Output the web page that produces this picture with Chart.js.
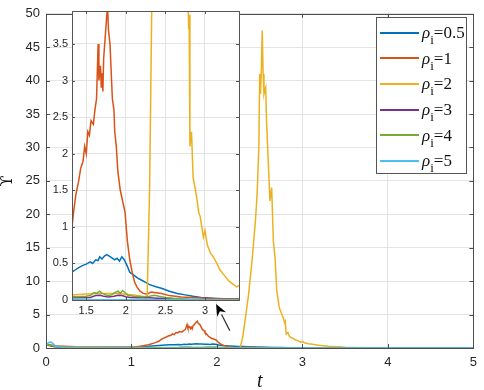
<!DOCTYPE html>
<html>
<head>
<meta charset="utf-8">
<script src="https://cdn.jsdelivr.net/npm/chart.js@4/dist/chart.umd.min.js"></script>
<style>
  body { margin:0; background:#fff; overflow:hidden; }
  #wrap { position:relative; width:484px; height:390px; }
  #main { position:absolute; left:0; top:0; }
  #inset { position:absolute; left:40px; top:0; }
  #legend { position:absolute; left:376px; top:17px; width:91px; height:157px; border:1px solid #555; background:#fff; box-sizing:border-box; padding-top:2px; }
  .row { height:25.6px; display:flex; align-items:center; }
  .swatch { width:39px; height:2px; margin-left:3px; margin-right:3px; }
  .lab { font-family:"Liberation Serif","Times New Roman",serif; font-size:17px; color:#111; line-height:1; }
  .lab i { font-style:italic; }
  .lab sub { font-size:13px; vertical-align:-6px; line-height:0; }
</style>
</head>
<body>
<div id="wrap">
  <canvas id="main" width="484" height="390"></canvas>
  <canvas id="inset" width="205" height="320"></canvas>
  <div id="legend"></div>
</div>
<script>
// rho_i values and MATLAB default line colours
const rhoLabels = ["0.5", "1", "2", "3", "4", "5"];
const colors = ["#0072BD", "#D95319", "#EDB120", "#7E2F8E", "#77AC30", "#4DBEEE"];

// rho = 0.5
const t1 = [0,0.03,0.06,0.1,0.2,0.35,0.6,0.9,1.05,1.2,1.32,1.36,1.4,1.45,1.5,1.55,1.58,1.62,1.65,1.67,1.7,1.73,1.76,1.79,1.82,1.86,1.89,1.92,1.95,1.98,2.02,2.05,2.1,2.15,2.2,2.25,2.3,2.38,2.45,2.55,2.65,2.75,2.85,2.95,3.1,3.3,3.6,4,4.5,5];
const y1 = [0.4,0.5,0.45,0.3,0.2,0.12,0.1,0.1,0.14,0.25,0.38,0.41,0.44,0.47,0.49,0.52,0.5,0.55,0.54,0.59,0.56,0.6,0.62,0.6,0.58,0.55,0.57,0.53,0.59,0.55,0.46,0.38,0.34,0.3,0.27,0.24,0.21,0.18,0.16,0.12,0.09,0.07,0.05,0.035,0.025,0.015,0.01,0.005,0.002,0];
// rho = 1
const t2 = [0,0.03,0.06,0.1,0.2,0.35,0.6,0.9,1.0,1.1,1.2,1.28,1.32,1.34,1.37,1.4,1.43,1.46,1.48,1.5,1.52,1.54,1.56,1.59,1.61,1.63,1.65,1.66,1.68,1.69,1.7,1.71,1.72,1.74,1.76,1.77,1.78,1.8,1.82,1.83,1.85,1.86,1.88,1.9,1.93,1.96,1.99,2.02,2.05,2.08,2.11,2.14,2.18,2.22,2.27,2.32,2.38,2.45,2.55,2.7,2.9,3.1,3.4,3.8,4.5,5];
const y2 = [0.5,0.45,0.35,0.3,0.25,0.2,0.16,0.12,0.12,0.25,0.5,0.8,1.0,1.2,1.45,1.6,1.8,1.9,2.1,2.0,2.3,2.25,2.45,2.4,2.6,2.75,3.5,3.0,3.2,2.9,3.1,2.85,3.3,3.6,3.9,4.0,3.7,3.5,3.0,2.75,2.6,2.3,2.1,1.75,1.5,1.35,1.2,0.8,0.55,0.38,0.25,0.18,0.12,0.09,0.08,0.11,0.1,0.09,0.06,0.04,0.03,0.02,0.015,0.01,0.005,0];
// rho = 2
const t3 = [0,0.03,0.06,0.1,0.2,0.35,0.6,0.9,1.2,1.32,1.45,1.6,1.75,1.9,2.0,2.1,2.2,2.25,2.27,2.3,2.33,2.37,2.41,2.43,2.45,2.47,2.49,2.5,2.51,2.52,2.53,2.54,2.55,2.56,2.57,2.58,2.6,2.62,2.64,2.66,2.68,2.7,2.73,2.76,2.78,2.795,2.8,2.81,2.83,2.85,2.88,2.9,2.92,2.94,2.96,2.98,3.0,3.03,3.07,3.1,3.15,3.19,3.25,3.3,3.35,3.4,3.43,3.5,3.6,3.8,4.0,4.3,5];
const y3 = [0.5,0.45,0.4,0.3,0.2,0.14,0.1,0.08,0.07,0.07,0.08,0.09,0.09,0.09,0.08,0.07,0.05,0.03,0.05,1.5,4.2,8,13,16,19,23,30,41,38,42,47.5,41,38,38.6,39,34,28,22,24,16,13.5,8.5,6,5,4.3,3.7,3.9,2.1,2.3,1.68,1.5,1.37,1.2,1.14,1.0,0.86,0.95,0.75,0.64,0.6,0.5,0.41,0.33,0.26,0.22,0.18,0.2,0.12,0.08,0.04,0.02,0.01,0];
// rho = 3
const t4 = [0,0.03,0.06,0.1,0.2,0.4,0.8,1.2,1.4,1.55,1.62,1.68,1.72,1.78,1.85,1.9,1.95,2.0,2.05,2.15,2.3,2.4,2.5,2.7,3.0,3.5,5];
const y4 = [0.45,0.4,0.3,0.2,0.1,0.05,0.03,0.03,0.03,0.035,0.06,0.065,0.05,0.04,0.05,0.065,0.06,0.045,0.035,0.03,0.03,0.025,0.02,0.01,0.005,0.002,0];
// rho = 4
const t5 = [0,0.03,0.06,0.1,0.2,0.4,0.8,1.2,1.4,1.5,1.55,1.6,1.63,1.67,1.7,1.73,1.77,1.82,1.86,1.9,1.93,1.96,1.99,2.03,2.1,2.2,2.3,2.36,2.42,2.5,2.6,2.8,3.0,3.5,5];
const y5 = [0.5,0.45,0.35,0.25,0.12,0.06,0.04,0.04,0.045,0.05,0.06,0.1,0.09,0.12,0.09,0.08,0.06,0.07,0.1,0.12,0.09,0.13,0.1,0.06,0.05,0.045,0.05,0.065,0.05,0.035,0.025,0.01,0.005,0.002,0];
// rho = 5
const t6 = [0,0.02,0.04,0.06,0.08,0.1,0.15,0.25,0.5,1.0,2.0,3.0,5];
const y6 = [0.3,0.7,0.85,0.9,0.7,0.4,0.15,0.05,0.02,0.01,0.005,0.002,0];

const tSeries = [t1, t2, t3, t4, t5, t6];
const ySeries = [y1, y2, y3, y4, y5, y6];

// axes
const mainXTicks = [0, 1, 2, 3, 4, 5];
const mainYMax = 50;
const insetXRange = [1.32, 3.43];
const insetYMax = 3.95;
const insetXTicks = [1.5, 2, 2.5, 3];
const insetYTicks = [0, 0.5, 1, 1.5, 2, 2.5, 3, 3.5];
// arrow annotation in data units: [tail t, tail y, head t, head y]
const arrowPts = [2.15, 2.6, 1.99, 6.6];

function makeDatasets(){
  return ySeries.map(function(ys, k){
    return {
      label: "rho_i=" + rhoLabels[k],
      data: ys.map(function(v, i){ return {x: tSeries[k][i], y: v}; }),
      borderColor: colors[k],
      borderWidth: 1.5,
      pointRadius: 0,
      tension: 0,
      fill: false,
      order: 5 - k
    };
  });
}

// box + inward ticks like matlab
const boxPlugin = {
  id: "box",
  beforeDraw(chart, args, opts){
    if (!opts.bg) return;
    const a = chart.chartArea, c = chart.ctx;
    c.save(); c.fillStyle = "#fff";
    c.fillRect(a.left, a.top, a.right - a.left, a.bottom - a.top);
    c.restore();
  },
  afterDraw(chart, args, opts){
    const a = chart.chartArea, c = chart.ctx;
    const len = opts.len || 4;
    c.save();
    c.strokeStyle = opts.color || "#4d4d4d";
    c.lineWidth = 1;
    c.beginPath();
    chart.scales.x.ticks.forEach(function(tk){
      const px = Math.round(chart.scales.x.getPixelForValue(tk.value)) + 0.5;
      c.moveTo(px, a.bottom); c.lineTo(px, a.bottom - len);
      c.moveTo(px, a.top); c.lineTo(px, a.top + len);
    });
    chart.scales.y.ticks.forEach(function(tk){
      const py = Math.round(chart.scales.y.getPixelForValue(tk.value)) + 0.5;
      c.moveTo(a.left, py); c.lineTo(a.left + len, py);
      c.moveTo(a.right, py); c.lineTo(a.right - len, py);
    });
    c.stroke();
    c.strokeRect(Math.round(a.left) + 0.5, Math.round(a.top) + 0.5, Math.round(a.right - a.left), Math.round(a.bottom - a.top));
    c.restore();
  }
};

const arrowPlugin = {
  id: "arrow",
  afterDraw(chart){
    const xs = chart.scales.x, ys = chart.scales.y, c = chart.ctx;
    const x0 = xs.getPixelForValue(arrowPts[0]), y0 = ys.getPixelForValue(arrowPts[1]);
    const x1 = xs.getPixelForValue(arrowPts[2]), y1p = ys.getPixelForValue(arrowPts[3]);
    const ang = Math.atan2(y1p - y0, x1 - x0);
    const hl = 12, hw = 5;
    const bx = x1 - hl * Math.cos(ang), by = y1p - hl * Math.sin(ang);
    c.save();
    c.strokeStyle = "#333"; c.lineWidth = 1.2;
    c.beginPath(); c.moveTo(x0, y0); c.lineTo(bx, by); c.stroke();
    c.fillStyle = "#000";
    c.beginPath();
    c.moveTo(x1, y1p);
    c.lineTo(bx + hw * Math.sin(ang), by - hw * Math.cos(ang));
    c.lineTo(x1 - 0.7 * hl * Math.cos(ang), y1p - 0.7 * hl * Math.sin(ang));
    c.lineTo(bx - hw * Math.sin(ang), by + hw * Math.cos(ang));
    c.closePath(); c.fill();
    c.restore();
  }
};

const tickFont = {family: "'Liberation Sans', Arial, sans-serif", size: 13};
const gridCol = "#e4e4e4";

new Chart(document.getElementById("main"), {
  type: "line",
  data: { datasets: makeDatasets() },
  options: {
    responsive: false,
    animation: false,
    events: [],
    layout: { padding: {top: 7, right: 5, left: 0, bottom: 0} },
    plugins: { legend: {display: false}, tooltip: {enabled: false}, box: {len: 4} },
    scales: {
      x: {
        type: "linear", min: 0, max: 5,
        afterBuildTicks: function(s){ s.ticks = mainXTicks.map(function(v){ return {value: v}; }); },
        afterFit: function(s){ s.height = 42; },
        ticks: { font: tickFont, color: "#262626", padding: 7, maxRotation: 0 },
        grid: { color: gridCol, drawTicks: false },
        border: { display: false },
        title: { display: true, text: "t", color: "#111", padding: {top: 0, bottom: 0},
                 font: {family: "'Liberation Serif', 'Times New Roman', serif", size: 20, style: "italic", lineHeight: 0.8} }
      },
      y: {
        min: 0, max: mainYMax,
        afterFit: function(s){ s.width = 46; },
        ticks: { stepSize: 5, font: tickFont, color: "#262626", padding: 6 },
        grid: { color: gridCol, drawTicks: false },
        border: { display: false },
        title: { display: true, text: "ϒ", color: "#111", padding: {top: 0, bottom: 0},
                 font: {family: "'DejaVu Serif', 'Liberation Serif', serif", size: 16, lineHeight: 1} }
      }
    }
  },
  plugins: [boxPlugin, arrowPlugin]
});

const insetFont = {family: "'Liberation Sans', Arial, sans-serif", size: 11};

new Chart(document.getElementById("inset"), {
  type: "line",
  data: { datasets: makeDatasets() },
  options: {
    responsive: false,
    animation: false,
    events: [],
    layout: { padding: {top: 11, right: 6, left: 0, bottom: 0} },
    plugins: { legend: {display: false}, tooltip: {enabled: false}, box: {len: 3, bg: true, color: "#555"} },
    scales: {
      x: {
        type: "linear", min: insetXRange[0], max: insetXRange[1],
        afterBuildTicks: function(s){ s.ticks = insetXTicks.map(function(v){ return {value: v}; }); },
        afterFit: function(s){ s.height = 20; },
        ticks: { font: insetFont, color: "#262626", padding: 4, maxRotation: 0,
                 callback: function(v){ return String(v); } },
        grid: { color: gridCol, drawTicks: false },
        border: { display: false }
      },
      y: {
        min: 0, max: insetYMax,
        afterBuildTicks: function(s){ s.ticks = insetYTicks.map(function(v){ return {value: v}; }); },
        afterFit: function(s){ s.width = 32; },
        ticks: { font: insetFont, color: "#262626", padding: 4,
                 callback: function(v){ return String(v); } },
        grid: { color: gridCol, drawTicks: false },
        border: { display: false }
      }
    }
  },
  plugins: [boxPlugin]
});

// legend
let html = "";
rhoLabels.forEach(function(r, k){
  html += "<div class='row'><div class='swatch' style='background:" + colors[k] + "'></div>" +
          "<span class='lab'><i>ρ</i><sub>i</sub>=" + r + "</span></div>";
});
document.getElementById("legend").innerHTML = html;
</script>
</body>
</html>
